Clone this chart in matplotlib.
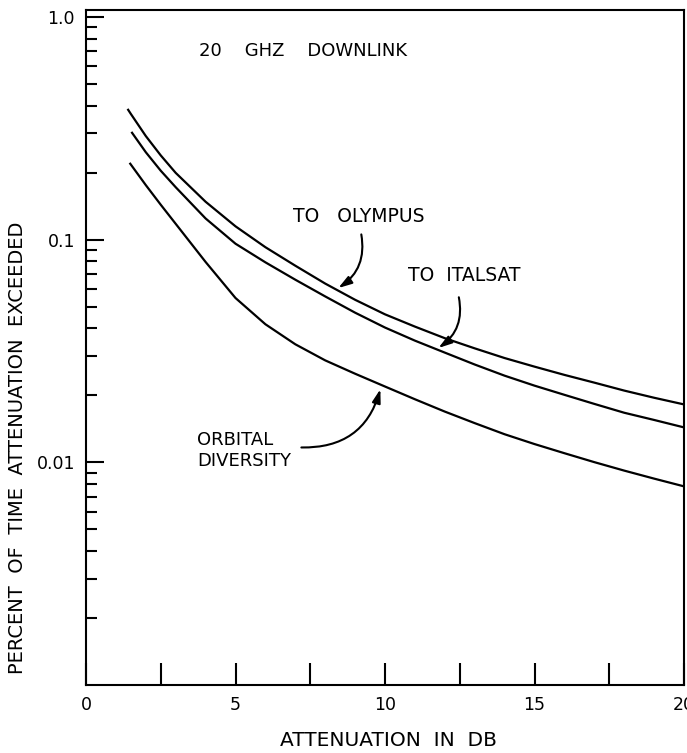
import matplotlib
matplotlib.use("Agg")
import matplotlib.pyplot as plt
from matplotlib.ticker import LogLocator, MultipleLocator, FixedLocator, NullFormatter
import numpy as np

# attenuation (dB) vs percent of time exceeded
atten = [2, 2.5, 3, 4, 5, 6, 7, 8, 9, 10, 11, 12, 13, 14, 15, 16, 17, 18, 19, 20]

olympus_x = [1.41, 1.5] + atten
olympus_y = [0.383, 0.367, 0.292, 0.239, 0.1995, 0.148, 0.1148, 0.0925, 0.0764, 0.0635,
             0.0537, 0.0462, 0.0407, 0.0361, 0.0325, 0.0294, 0.0269, 0.0247, 0.0228,
             0.0210, 0.0195, 0.0182]

italsat_x = [1.54] + atten
italsat_y = [0.302, 0.247, 0.204, 0.172, 0.1245, 0.0959, 0.0791, 0.0661, 0.0556, 0.0470,
             0.0403, 0.0352, 0.0311, 0.0275, 0.0245, 0.0221, 0.0201, 0.0183, 0.0167,
             0.0155, 0.01435]

orbital_x = [1.48] + atten
orbital_y = [0.2193, 0.1758, 0.1435, 0.1178, 0.0794, 0.0547, 0.0417, 0.0339, 0.0287,
             0.0250, 0.0219, 0.0192, 0.0169, 0.0150, 0.01337, 0.01208, 0.01099, 0.01002,
             0.00918, 0.00845, 0.00780]

x_ticks = [0, 5, 10, 15, 20]
y_ticks = [1.0, 0.1, 0.01]
y_tick_labels = ["1.0", "0.1", "0.01"]

W, H = 687, 753
fig = plt.figure(figsize=(W / 100, H / 100), dpi=100)
ax = fig.add_axes([86 / W, (H - 685) / H, (684 - 86) / W, (685 - 10) / H])

for xs, ys in [(olympus_x, olympus_y), (italsat_x, italsat_y), (orbital_x, orbital_y)]:
    ax.plot(xs, ys, color="black", lw=1.6, solid_joinstyle="round")

ax.set_yscale("log")
ax.set_xlim(0, 20)
ax.set_ylim(0.001, 1.075)

ax.xaxis.set_major_locator(FixedLocator(x_ticks))
ax.xaxis.set_minor_locator(MultipleLocator(2.5))
ax.set_xticklabels([str(v) for v in x_ticks])
ax.yaxis.set_major_locator(FixedLocator(y_ticks))
ax.set_yticklabels(y_tick_labels)
ax.yaxis.set_minor_locator(LogLocator(base=10, subs=np.arange(2, 10)))
ax.yaxis.set_minor_formatter(NullFormatter())

ax.tick_params(axis="x", which="both", direction="in", length=16, width=1.5,
               labelsize=12.5, pad=8, top=False)
ax.tick_params(axis="y", which="major", direction="in", length=13, width=1.5,
               labelsize=12.5, pad=8, right=False)
ax.tick_params(axis="y", which="minor", direction="in", length=8, width=1.5, right=False)
for s in ax.spines.values():
    s.set_linewidth(1.5)

fig.text(388 / W, 1 - 741 / H, "ATTENUATION  IN  DB", ha="center", va="center", fontsize=14.5)
fig.text(18 / W, 1 - 448 / H, "PERCENT  OF  TIME  ATTENUATION  EXCEEDED",
         ha="center", va="center", rotation=90, fontsize=14)

ax.text(3.79, 0.704, "20    GHZ    DOWNLINK", ha="left", va="center", fontsize=13)
ax.text(6.91, 0.1268, "TO   OLYMPUS", ha="left", va="center", fontsize=13.5)
ax.text(10.77, 0.069, "TO  ITALSAT", ha="left", va="center", fontsize=13.5)
ax.text(3.72, 0.01132, "ORBITAL\nDIVERSITY", ha="left", va="center", fontsize=13,
        linespacing=1.25)

arrow = dict(arrowstyle="-|>,head_length=0.8,head_width=0.25", color="black", lw=1.5)
ax.annotate("", xy=(8.36, 0.0597), xytext=(9.19, 0.1086),
            arrowprops=dict(arrow, connectionstyle="arc3,rad=-0.35"))
ax.annotate("", xy=(11.71, 0.0321), xytext=(12.45, 0.0567),
            arrowprops=dict(arrow, connectionstyle="arc3,rad=-0.35"))
ax.annotate("", xy=(9.87, 0.0219), xytext=(7.11, 0.01167),
            arrowprops=dict(arrow, connectionstyle="arc3,rad=0.4"))

fig.savefig("out.png", dpi=100)
